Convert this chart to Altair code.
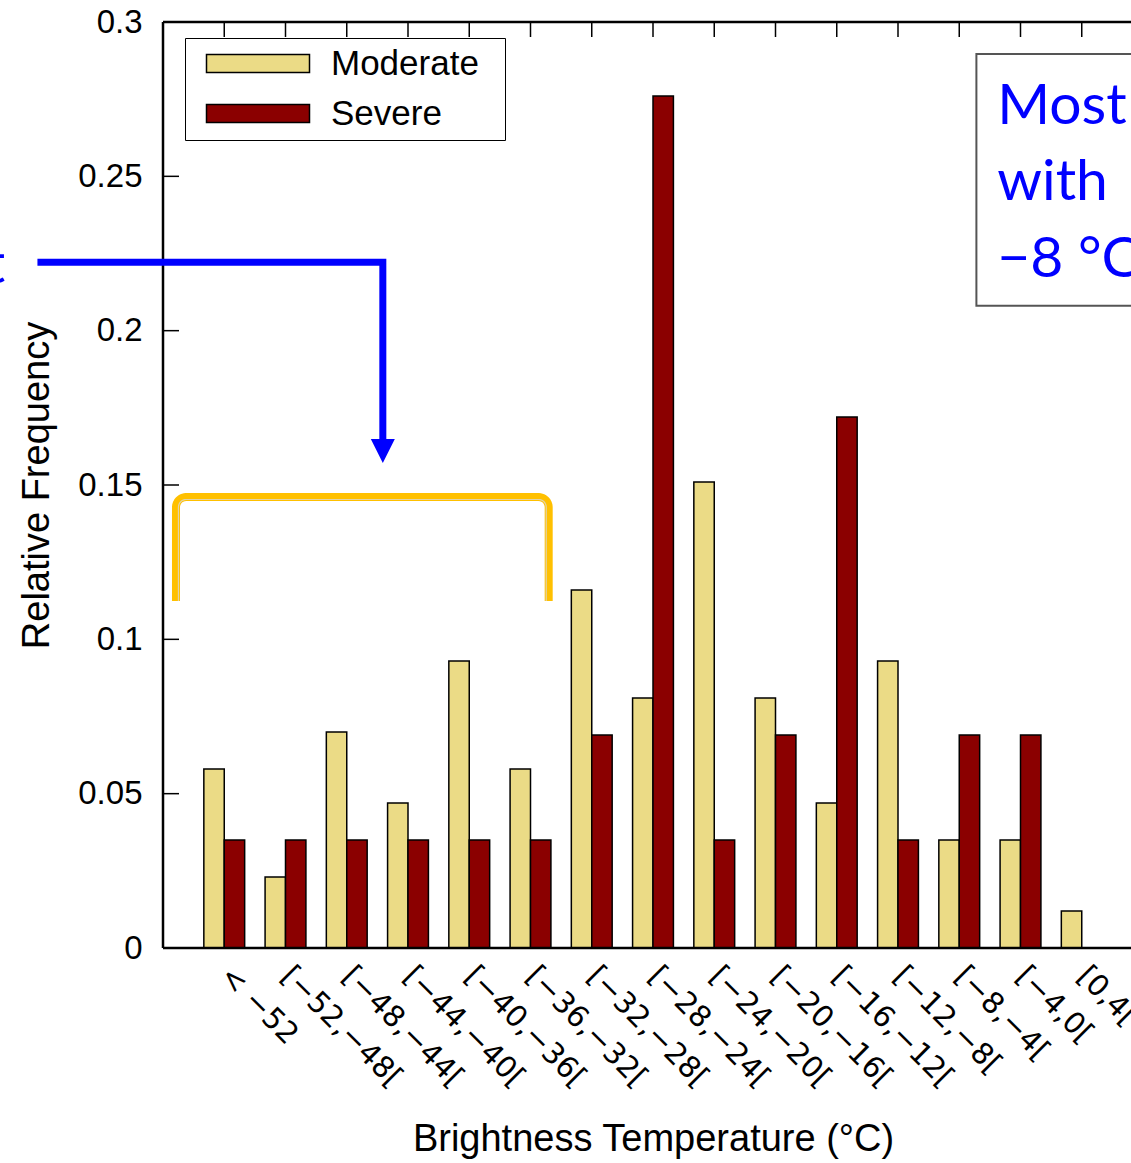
import json
import math
import altair as alt
import pandas as pd

# ---------------- data ----------------
categories = ["< −52", "[−52,−48[", "[−48,−44[", "[−44,−40[", "[−40,−36[", "[−36,−32[",
              "[−32,−28[", "[−28,−24[", "[−24,−20[", "[−20,−16[", "[−16,−12[", "[−12,−8[",
              "[−8,−4[", "[−4,0[", "[0,4["]
moderate = [0.058, 0.023, 0.070, 0.047, 0.093, 0.058, 0.116, 0.081, 0.151, 0.081,
            0.047, 0.093, 0.035, 0.035, 0.012]
severe = [0.035, 0.035, 0.035, 0.035, 0.035, 0.035, 0.069, 0.276, 0.035, 0.069,
          0.172, 0.035, 0.069, 0.069, 0.0]
series_names = ["Moderate", "Severe"]
series_colors = ["#EBDB86", "#8B0000"]
y_ticks = [0, 0.05, 0.1, 0.15, 0.2, 0.25, 0.3]

# annotations (in data units: x = category index, y = relative frequency)
arrow_x = [-2.05, 3.589, 3.589]
arrow_y = [0.2222, 0.2222, 0.1636]
arrow_head = [3.589, 0.1610]
cut_word = ["t"]
cut_word_pos = [-2.578, 0.2154]
bracket_box = [0.212, 6.297, 0.1461, 0.1124]   # left, right, top, bottom
note_box = [13.28, 20.0, 0.2896, 0.2081]
note_lines = ["Most", "with", "−8 °C"]
note_x = 13.62
note_y = [0.26695, 0.24233, 0.21739]

STEP = 61.25          # px per category
W, H = 968, 926       # visible part of the plot area (the rest is cut off in the reference)
X_MAX = W / STEP
FONT = "Liberation Sans"

# ---------------- tables ----------------
rows = []
for i, c in enumerate(categories):
    rows.append({"idx": i + 1, "series": "Moderate", "value": moderate[i]})
    rows.append({"idx": i + 1, "series": "Severe", "value": severe[i]})
bars_df = pd.DataFrame(rows)

xs = alt.Scale(domain=[0, X_MAX], nice=False, zero=False)
ys = alt.Scale(domain=[0, 0.3], nice=False, zero=False)

label_expr = json.dumps(categories, ensure_ascii=False) + "[datum.value - 1]"

x_axis = alt.Axis(values=list(range(1, 16)), labelExpr=label_expr, labelAngle=45,
                  labelAlign="left", labelBaseline="middle", labelPadding=23,
                  ticks=False, tickSize=0, domain=False, grid=False,
                  labelFont="DejaVu Sans", labelFontSize=29.5, labelColor="black",
                  labelOverlap=False, labelFlush=False, labelBound=False, labelLimit=400,
                  title="Brightness Temperature (°C)", titleFont=FONT, titleFontSize=38,
                  titleFontWeight="normal", titleColor="black", titleX=8 * STEP, titleY=202,
                  titleAlign="center", titleBaseline="alphabetic", titleAngle=0)
y_axis = alt.Axis(values=y_ticks, format="~g", ticks=False, tickSize=0, domain=False,
                  grid=False, labelPadding=21, labelFont=FONT, labelFontSize=33,
                  labelColor="black", labelOverlap=False, labelFlush=False,
                  title="Relative Frequency", titleFont=FONT, titleFontSize=38,
                  titleFontWeight="normal", titleColor="black", titleX=-115, titleY=H / 2,
                  titleAngle=-90, titleAlign="center", titleBaseline="alphabetic")


def X(f):
    return alt.X(f, scale=xs, axis=x_axis)


def Y(f):
    return alt.Y(f, scale=ys, axis=y_axis)


legend_path = "M-0.4,-0.9L9.9,-0.9L9.9,0.9L-0.4,0.9Z"

bars = alt.Chart(bars_df).mark_rect(stroke="black", strokeWidth=1.5, opacity=1).transform_calculate(
    x0="datum.series == 'Moderate' ? datum.idx - 1/3 : datum.idx",
    x1="datum.series == 'Moderate' ? datum.idx : datum.idx + 1/3",
).encode(
    x=X("x0:Q"),
    x2="x1:Q",
    y=Y("value:Q"),
    y2=alt.datum(0),
    color=alt.Color("series:N", scale=alt.Scale(domain=series_names, range=series_colors),
                    legend=alt.Legend(title=None, orient="none", legendX=22, legendY=16,
                                      direction="vertical", symbolType=legend_path,
                                      symbolSize=400, symbolStrokeColor="black",
                                      symbolStrokeWidth=1.5, symbolOpacity=1,
                                      labelFont=FONT, labelFontSize=35, labelColor="black",
                                      labelOffset=103, labelLimit=400,
                                      labelExpr="datum.label + '\u2002\u200b'",
                                      padding=8, rowPadding=14, strokeColor="black",
                                      fillColor="white")),
)

# plot frame (left, top, bottom) and inward ticks
frame_style = dict(color="black", strokeWidth=2.5)
frame_left = alt.Chart(pd.DataFrame({"a": [0]})).mark_rule(**frame_style).encode(
    x=alt.value(0), y=alt.value(0), y2=alt.value(H))
frame_top = alt.Chart(pd.DataFrame({"a": [0]})).mark_rule(**frame_style).encode(
    y=alt.value(0), x=alt.value(0), x2=alt.value(W + 20))
frame_bottom = alt.Chart(pd.DataFrame({"a": [0]})).mark_rule(**frame_style).encode(
    y=alt.value(H), x=alt.value(0), x2=alt.value(W + 20))

tick_df = pd.DataFrame({"v": y_ticks})
left_ticks = alt.Chart(tick_df).mark_rule(color="black", strokeWidth=1.5).encode(
    y=Y("v:Q"), x=alt.value(0), x2=alt.value(16))
top_df = pd.DataFrame({"i": list(range(1, 16))})
top_ticks = alt.Chart(top_df).mark_rule(color="black", strokeWidth=1.5).encode(
    x=X("i:Q"), y=alt.value(0), y2=alt.value(15))


# orange rounded bracket
def bracket_points(xl, xr, yt, yb, rx, ry, n=8):
    pts = [(xl, yb)]
    cx, cy = xl + rx, yt - ry
    for k in range(n + 1):
        th = math.pi - (math.pi / 2) * k / n
        pts.append((cx + rx * math.cos(th), cy + ry * math.sin(th)))
    cx = xr - rx
    for k in range(n + 1):
        th = math.pi / 2 - (math.pi / 2) * k / n
        pts.append((cx + rx * math.cos(th), cy + ry * math.sin(th)))
    pts.append((xr, yb))
    return pd.DataFrame({"x": [p[0] for p in pts], "y": [p[1] for p in pts],
                         "o": list(range(len(pts)))})


bl, br, bt, bb = bracket_box
outer = bracket_points(bl, br, bt, bb, 0.165, 0.0033)
inner = bracket_points(bl + 0.04, br - 0.04, bt - 0.0008, bb, 0.125, 0.0025)

bracket = alt.Chart(outer).mark_line(color="#FFC000", strokeWidth=8, strokeCap="butt",
                                     strokeJoin="round").encode(
    x=X("x:Q"), y=Y("y:Q"), order="o:Q")
bracket_in = alt.Chart(inner).mark_line(color="#E2D3A6", strokeWidth=1.2, strokeCap="butt").encode(
    x=X("x:Q"), y=Y("y:Q"), order="o:Q")

# blue arrow
arrow_df = pd.DataFrame({"x": arrow_x, "y": arrow_y, "o": [0, 1, 2]})
arrow_line = alt.Chart(arrow_df).mark_line(color="#0000FF", strokeWidth=7, strokeCap="butt",
                                           strokeJoin="miter").encode(
    x=X("x:Q"), y=Y("y:Q"), order="o:Q")
head_df = pd.DataFrame({"x": [arrow_head[0]], "y": [arrow_head[1]]})
arrow_tip = alt.Chart(head_df).mark_point(shape="M-1,-1L1,-1L0,1Z", size=576, filled=True,
                                          color="#0000FF", opacity=1).encode(
    x=X("x:Q"), y=Y("y:Q"))
cut_df = pd.DataFrame({"x": [cut_word_pos[0]], "y": [cut_word_pos[1]], "t": cut_word})
cut_text = alt.Chart(cut_df).mark_text(font="Lato", fontSize=57, color="#0000FF",
                                       align="right", baseline="alphabetic").encode(
    x=X("x:Q"), y=Y("y:Q"), text="t:N")

# note box
box_df = pd.DataFrame({"x": [note_box[0]], "x2": [note_box[1]], "y": [note_box[2]], "y2": [note_box[3]]})
box = alt.Chart(box_df).mark_rect(fill="white", stroke="#555555", strokeWidth=2).encode(
    x=X("x:Q"), x2="x2:Q", y=Y("y:Q"), y2="y2:Q")
note_df = pd.DataFrame({"x": [note_x] * len(note_lines), "y": note_y, "t": note_lines})
note = alt.Chart(note_df).mark_text(font="Lato", fontSize=57, color="#0000FF",
                                    align="left", baseline="alphabetic").encode(
    x=X("x:Q"), y=Y("y:Q"), text="t:N")

chart = alt.layer(
    bars, frame_left, frame_top, frame_bottom, left_ticks, top_ticks, bracket, bracket_in,
    arrow_line, arrow_tip, cut_text, box, note
).properties(
    width=W, height=H,
    padding={"left": 163, "top": 22, "right": 0, "bottom": 215},
    autosize=alt.AutoSizeParams(type="none"),
    background="white",
).configure_view(
    strokeWidth=0
)

chart.save("out.html", embed_options={"renderer": "svg", "actions": False})
